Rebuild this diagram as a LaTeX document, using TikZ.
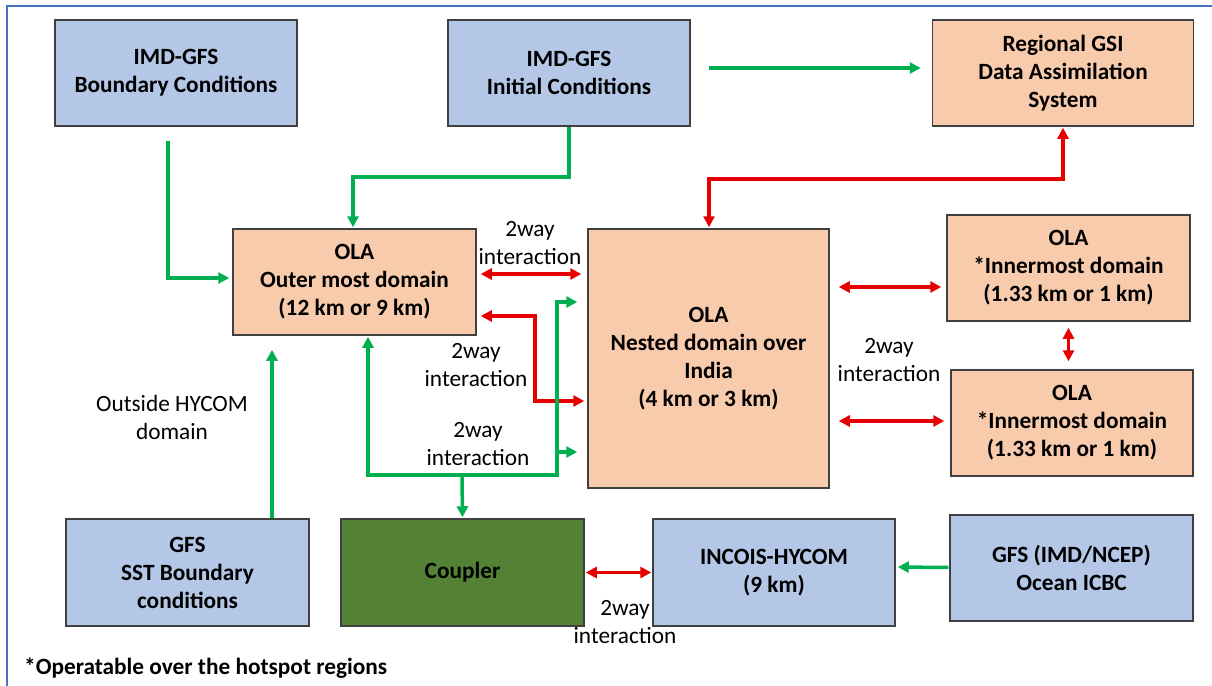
\documentclass[tikz,border=0pt]{standalone}
\usepackage{fontspec}
\setmainfont{Carlito}
\usepackage{tikz}
\usetikzlibrary{arrows.meta,positioning}

\definecolor{boxblue}{HTML}{B4C7E7}
\definecolor{boxpink}{HTML}{F8CBAD}
\definecolor{boxgreen}{HTML}{548235}
\definecolor{linegreen}{HTML}{00B050}
\definecolor{linered}{HTML}{E60000}
\definecolor{frameblue}{HTML}{4472C4}
\definecolor{edgegrey}{HTML}{404040}

\begin{document}
\begin{tikzpicture}[x=1pt,y=-1pt,>={Triangle[length=11pt,width=11pt]},
        font=\fontsize{23.3}{28}\selectfont,
        box/.style={draw=edgegrey,line width=1.5pt,align=center,inner sep=0pt,
          font=\fontsize{23.3}{28}\selectfont\bfseries,minimum width=242pt,minimum height=106pt},
        bluebox/.style={box,fill=boxblue},
        pinkbox/.style={box,fill=boxpink},
        couplerbox/.style={box,fill=boxgreen},
        garrow/.style={->,draw=linegreen,line width=3.5pt},
        rarrow/.style={<->,draw=linered,line width=3.5pt},
        lbl/.style={align=center,inner sep=0pt}]

  \useasboundingbox (0,0) rectangle (1212,685);
  \draw[frameblue,line width=1.5pt] (7,690) -- (7,6) -- (1220,6);

  % top row
  \node[bluebox] (bc) at (176,73) {IMD-GFS\\Boundary Conditions};
  \node[bluebox] (ic) at (569,73) {IMD-GFS\\Initial Conditions};
  \node[pinkbox,minimum width=261pt] (gsi) at (1063,73) {Regional GSI\\Data Assimilation\\System};

  % atmosphere domains
  \node[pinkbox,minimum width=243pt] (outer) at (354.5,282) {OLA\\Outer most domain\\(12 km or 9 km)};
  \node[pinkbox,minimum width=241pt,minimum height=259pt] (nested) at (708.5,358.5)
        {OLA\\Nested domain over\\India\\(4 km or 3 km)};
  \node[pinkbox,minimum width=243pt] (inner1) at (1068.5,268) {OLA\\*Innermost domain\\(1.33 km or 1 km)};
  \node[pinkbox] (inner2) at (1072,423) {OLA\\*Innermost domain\\(1.33 km or 1 km)};

  % bottom row
  \node[bluebox,minimum width=243pt,minimum height=107pt] (sst) at (187.5,572.5) {GFS\\SST Boundary\\conditions};
  \node[couplerbox,minimum width=243pt,minimum height=107pt] (coupler) at (462.5,572.5) {Coupler};
  \node[bluebox,minimum height=107pt] (incois) at (774,572.5) {INCOIS-HYCOM\\(9 km)};
  \node[bluebox,minimum width=243pt] (ocean) at (1071.5,568) {GFS (IMD/NCEP)\\Ocean ICBC};

  % labels
  \node[lbl] (lab1) at (530,243) {2way\\interaction};
  \node[lbl] (lab2) at (476,365) {2way\\interaction};
  \node[lbl] (lab3) at (478,444) {2way\\interaction};
  \node[lbl] (lab4) at (889,360) {2way\\interaction};
  \node[lbl] (lab5) at (625,622) {2way\\interaction};
  \node[lbl] (hycom) at (172,417) {Outside HYCOM\\domain};
  \node[lbl,anchor=west,font=\fontsize{23.3}{28}\selectfont\bfseries] (note) at (24,668)
        {*Operatable over the hotspot regions};

  % bend points
  \coordinate (k1) at (535,401);
  \coordinate (t1) at (557,475);
  \coordinate (t2) at (557,302);
  \coordinate (t3) at (557,452);
  \coordinate (t4) at (462,475);

  % red links
  \draw[rarrow,shorten <=1pt,shorten >=1pt] (gsi.south) -- ++(0,52) -| ([xshift=0.5pt]nested.north);
  \draw[rarrow,shorten <=4pt,shorten >=6pt] ([yshift=8pt]outer.east) -- ([yshift=84.5pt]nested.west);
  \draw[rarrow,shorten <=4pt,shorten >=3pt] ([yshift=-34pt]outer.east) -| (k1) -- ([yshift=-42.5pt]nested.west);
  \draw[rarrow,shorten <=9pt,shorten >=5pt] ([yshift=71.5pt]nested.east) -- ([yshift=-19pt]inner1.west);
  \draw[rarrow,shorten <=9pt,shorten >=6pt] ([yshift=-62.5pt]nested.east) -- ([yshift=2pt]inner2.west);
  \draw[rarrow,shorten <=6pt,shorten >=8pt] (inner1.south) -- ([xshift=-3.5pt]inner2.north);
  \draw[rarrow,shorten <=1pt,shorten >=1pt] (coupler.east) -- (incois.west);

  % green links
  \draw[garrow,shorten <=18pt,shorten >=11pt] ([yshift=5pt]ic.east) -- ([yshift=5pt]gsi.west);
  \draw[garrow,shorten <=14pt,shorten >=3pt] ([xshift=-8pt]bc.south) |- ([yshift=4pt]outer.west);
  \draw[garrow,shorten >=1pt] (ic.south) -- ++(0,50) -| ([xshift=-1.5pt]outer.north);
  \draw[garrow,shorten >=14pt] ([xshift=84.5pt]sst.north) -- ([xshift=-82.5pt]outer.south);
  \draw[garrow,<->,shorten <=1pt] ([xshift=13.5pt]outer.south) |- (t1) -- (t2)
        -- ([yshift=56.5pt,xshift=-10pt]nested.west);
  \draw[garrow] (t3) -- ([yshift=-93.5pt,xshift=-10pt]nested.west);
  \draw[garrow,shorten >=1pt] (t4) -- (coupler.north);
  \draw[garrow,shorten <=1pt,shorten >=2pt] ([yshift=0.5pt]ocean.west) -- ([yshift=5.5pt]incois.east);

\end{tikzpicture}
\end{document}
